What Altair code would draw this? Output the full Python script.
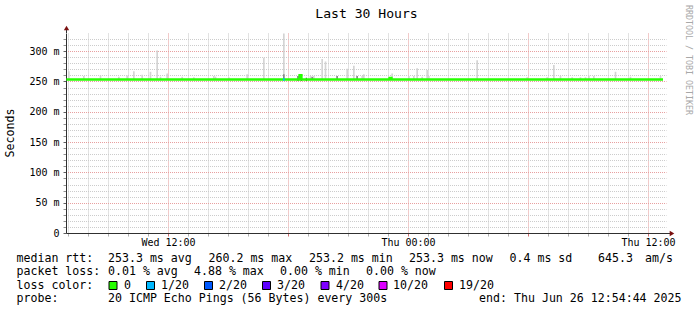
import altair as alt
import pandas as pd

# ---------------- data ----------------
smoke_times = [
    "2025-06-25T07:00", "2025-06-25T07:45", "2025-06-25T08:35", "2025-06-25T09:30",
    "2025-06-25T09:55", "2025-06-25T10:15", "2025-06-25T10:40", "2025-06-25T11:05",
    "2025-06-25T11:25", "2025-06-25T11:35", "2025-06-25T11:55", "2025-06-25T12:40",
    "2025-06-25T13:15", "2025-06-25T14:15", "2025-06-25T14:20", "2025-06-25T15:00",
    "2025-06-25T15:55", "2025-06-25T16:45", "2025-06-25T17:45", "2025-06-25T19:05",
    "2025-06-25T19:15", "2025-06-25T19:40", "2025-06-25T19:50", "2025-06-25T20:25",
    "2025-06-25T20:55", "2025-06-25T21:15", "2025-06-25T21:25", "2025-06-25T21:40",
    "2025-06-25T21:45", "2025-06-25T23:10", "2025-06-26T00:00", "2025-06-26T00:15",
    "2025-06-26T00:25", "2025-06-26T00:40", "2025-06-26T00:55", "2025-06-26T01:00",
    "2025-06-26T03:25", "2025-06-26T05:55", "2025-06-26T06:55", "2025-06-26T07:15",
    "2025-06-26T07:35", "2025-06-26T08:10", "2025-06-26T08:35", "2025-06-26T08:50",
    "2025-06-26T09:00", "2025-06-26T09:15", "2025-06-26T10:20", "2025-06-26T11:05",
    "2025-06-26T12:35",
]
smoke_tops = [
    267, 259, 260, 258,
    260, 267, 261, 266,
    301, 258, 263, 258,
    257, 259, 258, 257,
    262, 289, 329, 259,
    259, 287, 283, 259,
    271, 276, 259, 259,
    262, 263, 259, 259,
    272, 258, 269, 259,
    285, 257, 257, 277,
    259, 257, 257, 257,
    260, 259, 266, 258,
    259,
]
smoke_dark_times = ["2025-06-25T17:45", "2025-06-25T20:25", "2025-06-25T21:25", "2025-06-25T19:10"]
smoke_dark_lows = [255, 254, 254, 254]
smoke_dark_highs = [262, 259, 259, 258]

smoke_black_times = ["2025-06-25T18:30", "2025-06-25T18:40", "2025-06-25T18:55"]
smoke_black_lows = [251, 251, 251]
smoke_black_highs = [259, 256, 256]

median_times = ["2025-06-25T06:55", "2025-06-25T18:35", "2025-06-25T18:40",
                "2025-06-25T23:05", "2025-06-25T23:10", "2025-06-26T12:45"]
median_values = [253.3, 260.2, 253.3, 255.5, 253.3, 253.3]

loss_times = ["2025-06-25T17:45"]
loss_levels = ["1/20"]
loss_rtts = [253.3]

loss_labels = ["0", "1/20", "2/20", "3/20", "4/20", "10/20", "19/20"]
loss_colors = ["#26ff00", "#00b8ff", "#0059ff", "#5e00ff", "#7e00ff", "#dd00ff", "#ff0000"]

title_text = "Last 30 Hours"
y_title = "Seconds"
watermark = "RRDTOOL / TOBI OETIKER"
rtt_label = "median rtt:"
rtt_values = ["253.3 ms avg", "260.2 ms max", "253.2 ms min", "253.3 ms now",
              "0.4 ms sd", "645.3", "am/s"]
pl_label = "packet loss:"
pl_values = ["0.01 % avg", "4.88 % max", "0.00 % min", "0.00 % now"]
color_label = "loss color:"
probe_label = "probe:"
probe_text = "20 ICMP Echo Pings (56 Bytes) every 300s"
end_text = "end: Thu Jun 26 12:54:44 2025"

# ---------------- layout ----------------
L, T, W, H = 66, 33, 600, 200
MONO = "DejaVu Sans Mono"
row_y = [258.5, 272, 285.5, 299]
rtt_x = [108, 208.5, 309, 409, 509.5, 598, 645]
pl_x = [108, 194, 280, 366]
box_x = [113, 150.5, 208.5, 266.5, 325, 383, 448.5]
lab_x = [124, 161, 219, 277, 336, 393, 459]

x_scale = alt.Scale(
    domain=[alt.DateTime(year=2025, month=6, date=25, hours=6, minutes=54),
            alt.DateTime(year=2025, month=6, date=26, hours=12, minutes=54)],
    nice=False)
y_scale = alt.Scale(domain=[0, 330], nice=False, zero=True)

x_ticks = []
for d, hrs in ((25, range(7, 24)), (26, range(0, 13))):
    for h in hrs:
        x_ticks.append(alt.DateTime(year=2025, month=6, date=d, hours=h))
y_ticks = list(range(0, 330, 10))

GRID = "#c4c4c4"
MGRID = "#e49494"

x_axis = alt.Axis(
    values=x_ticks, title=None,
    labelExpr="hours(datum.value) % 12 == 0 ? timeFormat(datum.value, '%a %H:%M') : ''",
    labelFont=MONO, labelFontSize=10, labelColor="#000", labelPadding=1,
    labelOverlap=False, labelFlush=False,
    grid=True, gridDash=[1, 1], gridDashOffset=0, gridWidth=1, gridOpacity=1,
    gridColor={"condition": {"test": "hours(datum.value) % 6 == 0", "value": MGRID}, "value": GRID},
    ticks=True, tickSize=3,
    tickColor={"condition": {"test": "hours(datum.value) % 6 == 0", "value": "#d07070"}, "value": "#b0b0b0"},
    domainColor="#303030", domainWidth=1,
)
y_axis = alt.Axis(
    values=y_ticks, title=None,
    labelExpr="datum.value % 50 == 0 ? (datum.value == 0 ? '0\u00a0\u00a0' : datum.value + ' m') : ''",
    labelFont=MONO, labelFontSize=10, labelColor="#000", labelPadding=4,
    labelOverlap=False, labelFlush=False,
    grid=True, gridDash=[1, 1], gridDashOffset=0.5, gridWidth=1, gridOpacity=1,
    gridColor={"condition": {"test": "datum.value % 50 == 0 && datum.value > 0", "value": "#e8a0a0"}, "value": "#cccccc"},
    ticks=True, tickSize=3,
    tickColor={"condition": {"test": "datum.value % 50 == 0", "value": "#606060"}, "value": "#909090"},
    domainColor="#303030", domainWidth=1,
)


def X(field):
    return alt.X(field, type="temporal", scale=x_scale, axis=x_axis)


def Y(field):
    return alt.Y(field, type="quantitative", scale=y_scale, axis=y_axis)


calc = dict(ts="time(toDate(datum.t))", te="time(toDate(datum.t)) + 300000")

smoke_df = pd.DataFrame({"t": smoke_times, "top": smoke_tops})
smoke = alt.Chart(smoke_df).transform_calculate(base=str(median_values[0]), **calc).mark_rect(
    color="#d4d4d4").encode(x=X("ts"), x2="te:T", y=Y("top"), y2="base:Q")

dark_df = pd.DataFrame({"t": smoke_dark_times, "lo": smoke_dark_lows, "hi": smoke_dark_highs})
dark = alt.Chart(dark_df).transform_calculate(**calc).mark_rect(color="#8a8a8a").encode(
    x=X("ts"), x2="te:T", y=Y("hi"), y2="lo:Q")

black_df = pd.DataFrame({"t": smoke_black_times, "lo": smoke_black_lows, "hi": smoke_black_highs})
black = alt.Chart(black_df).transform_calculate(**calc).mark_rect(color="#202020", width=1).encode(
    x=X("ts"), y=Y("hi"), y2="lo:Q")

median_df = pd.DataFrame({"t": median_times, "v": median_values})
median = alt.Chart(median_df).transform_calculate(**calc).mark_line(
    interpolate="step-after", color=loss_colors[0], strokeWidth=2.6).encode(x=X("ts"), y=Y("v"))

loss_df = pd.DataFrame({"t": loss_times, "level": loss_levels, "v": loss_rtts})
loss = alt.Chart(loss_df).transform_calculate(**calc).mark_rule(strokeWidth=2.6).encode(
    x=X("ts"), x2="te:T", y=Y("v"),
    color=alt.Color("level:N", scale=alt.Scale(domain=loss_labels, range=loss_colors), legend=None))

one = alt.Data(values=[{"a": 1}])


def txt(s, x, y, size=11.6, align="left", angle=0, color="#000"):
    kw = dict(font=MONO, fontSize=size, align=align, baseline="middle", color=color)
    if angle:
        kw["angle"] = angle
    return alt.Chart(one).mark_text(**kw).encode(
        text=alt.value(s), x=alt.value(x - L), y=alt.value(y - T))


layers = [smoke, dark, black, median, loss]

# axis extensions + arrows
layers.append(alt.Chart(one).mark_rule(color="#303030").encode(
    x=alt.value(0.5), y=alt.value(-4), y2=alt.value(0)))
layers.append(alt.Chart(one).mark_rule(color="#303030").encode(
    x=alt.value(W), x2=alt.value(W + 4), y=alt.value(H + 0.5)))
layers.append(alt.Chart(one).mark_point(shape="triangle-up", filled=True, color="#7a1010",
                                        size=28, opacity=1).encode(
    x=alt.value(0.5), y=alt.value(-5)))
layers.append(alt.Chart(one).mark_point(shape="triangle-right", filled=True, color="#7a1010",
                                        size=28, opacity=1).encode(
    x=alt.value(W + 6), y=alt.value(H + 0.5)))

# titles
layers.append(txt(title_text, 366.5, 13.5, size=13.1, align="center"))
layers.append(txt(y_title, 11, 133, size=11.6, align="center", angle=270))
layers.append(txt(watermark, 688, 60, size=8.3, align="center", angle=90, color="#a8a8a8"))

# legend rows
layers.append(txt(rtt_label, 16.5, row_y[0]))
for s, x in zip(rtt_values, rtt_x):
    layers.append(txt(s, x, row_y[0]))
layers.append(txt(pl_label, 16.5, row_y[1]))
for s, x in zip(pl_values, pl_x):
    layers.append(txt(s, x, row_y[1]))
layers.append(txt(color_label, 16.5, row_y[2]))
for lab, col, bx, lx in zip(loss_labels, loss_colors, box_x, lab_x):
    layers.append(alt.Chart(one).mark_square(size=64, filled=True, fill=col, stroke="#000",
                                             strokeWidth=1, opacity=1).encode(
        x=alt.value(bx - L), y=alt.value(row_y[2] - T)))
    layers.append(txt(lab, lx, row_y[2]))
layers.append(txt(probe_label, 16.5, row_y[3]))
layers.append(txt(probe_text, 108, row_y[3]))
layers.append(txt(end_text, 681.5, row_y[3], align="right"))

chart = alt.layer(*layers).properties(
    width=W, height=H,
    autosize=alt.AutoSizeParams(type="none"),
    padding={"left": L, "top": T, "right": 697 - L - W, "bottom": 315 - T - H},
    background="white",
).configure_view(stroke=None)

chart.save("out.html", embed_options={"renderer": "svg", "actions": False})
